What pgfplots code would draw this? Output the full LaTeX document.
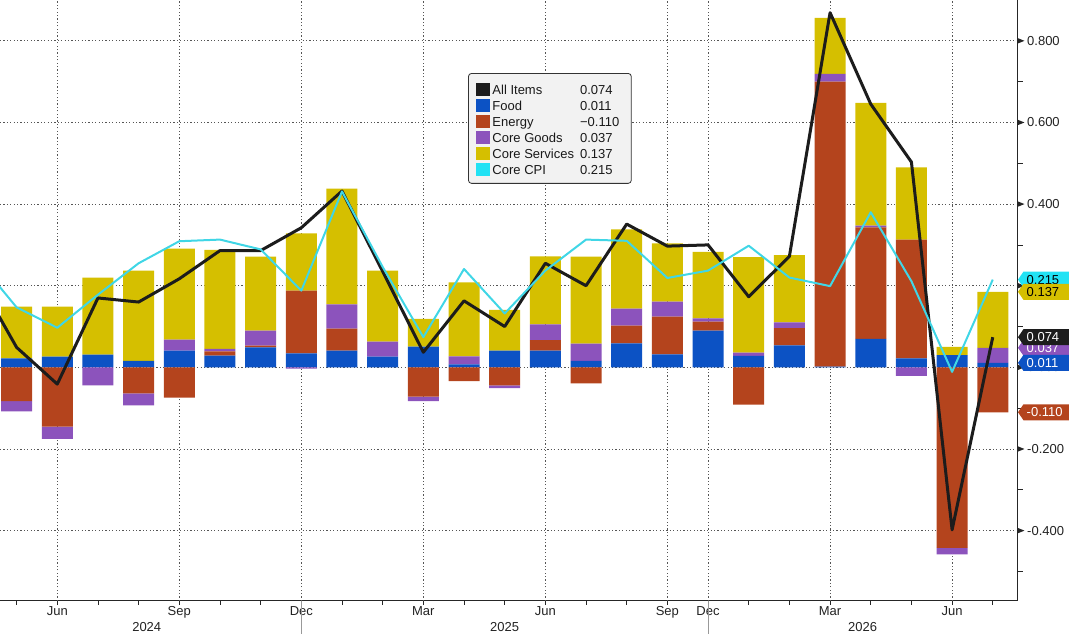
\documentclass[border=0pt]{standalone}
\usepackage{pgfplots}
\pgfplotsset{compat=1.18}
\usepackage{pgfplotstable}
\usepackage{fontspec}
\setmainfont{Liberation Sans}
\definecolor{cAll}{HTML}{1C1C1C}
\definecolor{cFood}{HTML}{0C52C4}
\definecolor{cEnergy}{HTML}{B4441D}
\definecolor{cGoods}{HTML}{8C53BC}
\definecolor{cServ}{HTML}{D5BF00}
\definecolor{cCoreLine}{HTML}{40D6E6}
\definecolor{cCoreTag}{HTML}{22E2F4}
\definecolor{cGrid}{HTML}{555555}
\definecolor{cText}{HTML}{222222}

\pgfplotstableread{
i food energy goods services
0 0.022 -0.083 -0.025 0.127
1 0.026 -0.145 -0.030 0.123
2 0.031 0.000 -0.044 0.189
3 0.016 -0.064 -0.029 0.221
4 0.041 -0.074 0.027 0.223
5 0.029 0.010 0.006 0.243
6 0.049 0.004 0.037 0.181
7 0.034 0.154 -0.003 0.140
8 0.041 0.054 0.059 0.284
9 0.026 0.000 0.037 0.174
10 0.051 -0.072 -0.011 0.068
11 0.007 -0.034 0.020 0.181
12 0.041 -0.044 -0.007 0.100
13 0.041 0.026 0.038 0.167
14 0.016 -0.039 0.042 0.213
15 0.059 0.043 0.042 0.194
16 0.032 0.092 0.037 0.143
17 0.090 0.022 0.008 0.163
18 0.028 -0.091 0.008 0.234
19 0.054 0.042 0.014 0.165
20 0.002 0.698 0.019 0.137
21 0.070 0.273 0.004 0.301
22 0.022 0.291 -0.021 0.177
23 0.030 -0.442 -0.016 0.020
24 0.011 -0.110 0.037 0.137
}\bardata

\pgfplotstableread{
i all core
-1 0.225 0.268
0 0.049 0.147
1 -0.041 0.097
2 0.170 0.178
3 0.160 0.255
4 0.217 0.309
5 0.286 0.313
6 0.286 0.289
7 0.342 0.188
8 0.432 0.431
9 0.235 0.246
10 0.037 0.074
11 0.163 0.241
12 0.100 0.132
13 0.255 0.237
14 0.200 0.313
15 0.351 0.310
16 0.297 0.219
17 0.300 0.237
18 0.173 0.298
19 0.272 0.220
20 0.869 0.199
21 0.645 0.380
22 0.503 0.211
23 -0.398 -0.011
24 0.074 0.215
}\linedata

\pgfplotsset{base/.style={width=1018pt,height=601pt,scale only axis,
  xmin=-0.408,xmax=24.62,ymin=-0.5724,ymax=0.9,at={(0,0)},anchor=south west}}

\newcommand\valtag[4]{%
  \fill[#1] (axis cs:24.62,#3) -- ++(5.5pt,8pt) -- ++(46pt,0pt) -- ++(0pt,-16pt) -- ++(-46pt,0pt) -- cycle;
  \node[anchor=west, inner sep=0pt, text=#2, xshift=8.5pt] at (axis cs:24.62,#3) {#4};}
\newcommand\sq[1]{\textcolor{#1}{\rule[-1.85pt]{14pt}{13pt}}}

\begin{document}
\begin{tikzpicture}[font=\fontsize{13}{16}\selectfont]
% Bars
\begin{axis}[base, ybar stacked, bar width=0.762,
  axis x line*=bottom, axis y line*=right,
  axis line style={-, line width=1pt, black!85},
  xtick={0,...,24}, xticklabels={}, tick align=outside, major tick length=4pt,
  xtick style={black!85, line width=0.8pt},
  extra x ticks={1,4,7,10,13,16,17,20,23}, extra x tick labels={},
  extra x tick style={grid=major},
  ytick={-0.4,-0.2,0,0.2,0.4,0.6,0.8}, ymajorgrids, ytick style={draw=none},
  grid style={line width=0.8pt, cGrid, dash pattern=on 1.2pt off 2.2pt},
  yticklabel style={anchor=west, inner sep=0pt, xshift=5pt, font=\fontsize{13}{16}\selectfont, text=cText},
  yticklabel={\pgfmathprintnumber[fixed,fixed zerofill,precision=3,assume math mode=true]{\tick}},
]
\addplot[fill=cFood, draw=none] table[x=i, y expr={min(\thisrow{food},0)}]{\bardata};
\addplot[fill=cEnergy, draw=none] table[x=i, y expr={min(\thisrow{energy},0)}]{\bardata};
\addplot[fill=cGoods, draw=none] table[x=i, y expr={min(\thisrow{goods},0)}]{\bardata};
\addplot[fill=cServ, draw=none] table[x=i, y expr={min(\thisrow{services},0)}]{\bardata};
\addplot[fill=cFood, draw=none] table[x=i, y expr={max(\thisrow{food},0)}]{\bardata};
\addplot[fill=cEnergy, draw=none] table[x=i, y expr={max(\thisrow{energy},0)}]{\bardata};
\addplot[fill=cGoods, draw=none] table[x=i, y expr={max(\thisrow{goods},0)}]{\bardata};
\addplot[fill=cServ, draw=none] table[x=i, y expr={max(\thisrow{services},0)}]{\bardata};
\end{axis}
% Lines
\begin{axis}[base, hide axis]
\addplot[cAll, line width=3pt, line join=round, mark=none] table[x=i,y=all]{\linedata};
\addplot[cCoreLine, line width=2pt, line join=round, mark=none] table[x=i,y=core]{\linedata};
\end{axis}
% Decorations
\begin{axis}[base, hide axis, clip=false]
\pgfplotsinvokeforeach{-0.4,-0.2,0,0.2,0.4,0.6,0.8}{
  \fill[black!85] (axis cs:24.62,#1) ++(0pt,-2.6pt) -- ++(6.5pt,2.6pt) -- ++(-6.5pt,2.6pt) -- cycle;}
\pgfplotsinvokeforeach{-0.5,-0.3,-0.1,0.1,0.3,0.5,0.7}{
  \draw[black!85, line width=0.8pt] (axis cs:24.62,#1) -- ++(5pt,0pt);}
% month labels
\node[anchor=base, text=cText, yshift=-15pt] at (axis cs:1,-0.5724) {Jun};
\node[anchor=base, text=cText, yshift=-15pt] at (axis cs:4,-0.5724) {Sep};
\node[anchor=base, text=cText, yshift=-15pt] at (axis cs:7,-0.5724) {Dec};
\node[anchor=base, text=cText, yshift=-15pt] at (axis cs:10,-0.5724) {Mar};
\node[anchor=base, text=cText, yshift=-15pt] at (axis cs:13,-0.5724) {Jun};
\node[anchor=base, text=cText, yshift=-15pt] at (axis cs:16,-0.5724) {Sep};
\node[anchor=base, text=cText, yshift=-15pt] at (axis cs:17,-0.5724) {Dec};
\node[anchor=base, text=cText, yshift=-15pt] at (axis cs:20,-0.5724) {Mar};
\node[anchor=base, text=cText, yshift=-15pt] at (axis cs:23,-0.5724) {Jun};
% years
\node[anchor=base, text=cText, yshift=-31pt] at (axis cs:3.2,-0.5724) {2024};
\node[anchor=base, text=cText, yshift=-31pt] at (axis cs:12,-0.5724) {2025};
\node[anchor=base, text=cText, yshift=-31pt] at (axis cs:20.8,-0.5724) {2026};
\draw[black!40, line width=1pt] (axis cs:7,-0.5724) -- ++(0pt,-33pt);
\draw[black!40, line width=1pt] (axis cs:17,-0.5724) -- ++(0pt,-33pt);
% legend
\node[draw=black!80, fill=black!5, rounded corners=3pt, line width=0.8pt, inner sep=0pt, anchor=north west] at (axis cs:11.1,0.721) {%
\fontsize{13}{16}\selectfont\color{black!90}%
\begin{tabular}{@{\hspace{8pt}}l@{\hspace{2pt}}l@{\hspace{6pt}}l@{\hspace{12pt}}}
\noalign{\vskip 9.4pt}
\sq{cAll} & All Items & 0.074\\
\sq{cFood} & Food & 0.011\\
\sq{cEnergy} & Energy & −0.110\\
\sq{cGoods} & Core Goods & 0.037\\
\sq{cServ} & Core Services & 0.137\\
\sq{cCoreTag} & Core CPI & 0.215\\
\noalign{\vskip 4.5pt}
\end{tabular}};
% value tags
\valtag{cCoreTag}{black}{0.215}{0.215}
\valtag{cServ}{black}{0.185}{0.137}
\valtag{cGoods}{white}{0.048}{0.037}
\valtag{cAll}{white}{0.074}{0.074}
\valtag{cFood}{white}{0.011}{0.011}
\valtag{cEnergy}{white}{-0.110}{-0.110}
\end{axis}
\pgfresetboundingbox
\useasboundingbox (0pt,-33pt) rectangle (1069pt,601pt);
\end{tikzpicture}
\end{document}
